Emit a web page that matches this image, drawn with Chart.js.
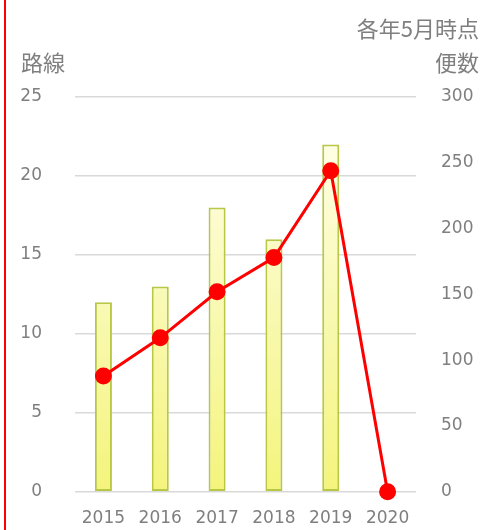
<!DOCTYPE html>
<html>
<head>
<meta charset="utf-8">
<script src="https://cdn.jsdelivr.net/npm/chart.js@4.4.1/dist/chart.umd.min.js"></script>
<style>
  html, body { margin: 0; padding: 0; background: #fff; overflow: hidden; }
  #wrap { position: relative; width: 494px; height: 530px; overflow: hidden; }
  #edge { position: absolute; left: 4px; top: 0; width: 2px; height: 530px; background: #ff0000; z-index: 2; }
  #chart { position: absolute; left: 0; top: 0; display: block; }
</style>
</head>
<body>
<div id="wrap">
  <canvas id="chart" width="494" height="535"></canvas>
  <div id="edge"></div>
</div>
<script>
// datos
var years = ['2015', '2016', '2017', '2018', '2019', '2020'];
var routes = [12, 13, 18, 16, 22, 0];      // 路線 (eje izquierdo)
var flights = [88, 117, 152, 178, 244, 0]; // 便数 (eje derecho)
var leftTicks = [0, 5, 10, 15, 20, 25];
var rightTicks = [0, 50, 100, 150, 200, 250, 300];

var gray = '#7f7f7f';
var numFont = { family: 'DejaVu Sans', size: 17 };

// textos de los ejes, dibujados a mano
var labelsPlugin = {
    id: 'axisLabels',
    afterDraw: function (chart) {
        var ctx = chart.ctx;
        ctx.save();
        ctx.fillStyle = gray;
        ctx.font = '22px "Noto Sans CJK JP"';
        ctx.textBaseline = 'middle';
        ctx.textAlign = 'left';
        ctx.fillText('路線', 21, 63);
        ctx.textAlign = 'right';
        ctx.fillText('便数', 479, 63);
        ctx.fillText('各年5月時点', 479, 29);
        ctx.restore();
    }
};

function barGradient(context) {
    var chart = context.chart;
    var area = chart.chartArea;
    if (!area) return '#fcfcb0';
    var g = chart.ctx.createLinearGradient(0, area.top, 0, area.bottom);
    g.addColorStop(0, '#fffff2');
    g.addColorStop(1, '#f4f47c');
    return g;
}

new Chart(document.getElementById('chart'), {
    type: 'bar',
    data: {
        labels: years,
        datasets: [
            {
                type: 'line',
                label: '便数',
                data: flights,
                yAxisID: 'y2',
                borderColor: '#ff0000',
                backgroundColor: '#ff0000',
                borderWidth: 3,
                pointRadius: 7,
                pointHoverRadius: 7,
                tension: 0,
                clip: false,
                order: 0
            },
            {
                label: '路線',
                data: routes,
                yAxisID: 'y',
                backgroundColor: barGradient,
                borderColor: '#b8c846',
                borderWidth: 2,
                borderSkipped: false,
                categoryPercentage: 1,
                barPercentage: 0.3,
                order: 1
            }
        ]
    },
    options: {
        responsive: false,
        animation: false,
        layout: { autoPadding: false, padding: { top: 97, left: 0, right: 0, bottom: 0 } },
        plugins: {
            legend: { display: false },
            tooltip: { enabled: false }
        },
        scales: {
            x: {
                grid: { display: false, drawTicks: false },
                border: { display: false },
                ticks: { color: gray, font: numFont, padding: 17, maxRotation: 0 },
                afterFit: function (s) { s.height = 38; }
            },
            y: {
                position: 'left',
                min: 0,
                max: 25,
                afterBuildTicks: function (s) { s.ticks = leftTicks.map(function (v) { return { value: v }; }); },
                grid: { color: '#d9d9d9', lineWidth: 1.5, drawTicks: false },
                border: { display: false },
                ticks: { color: gray, font: numFont, padding: 33 },
                afterFit: function (s) { s.width = 75; }
            },
            y2: {
                position: 'right',
                min: 0,
                max: 300,
                afterBuildTicks: function (s) { s.ticks = rightTicks.map(function (v) { return { value: v }; }); },
                grid: { display: false, drawTicks: false },
                border: { display: false },
                ticks: { color: gray, font: numFont, padding: 25 },
                afterFit: function (s) { s.width = 78; }
            }
        }
    },
    plugins: [labelsPlugin]
});
</script>
</body>
</html>
